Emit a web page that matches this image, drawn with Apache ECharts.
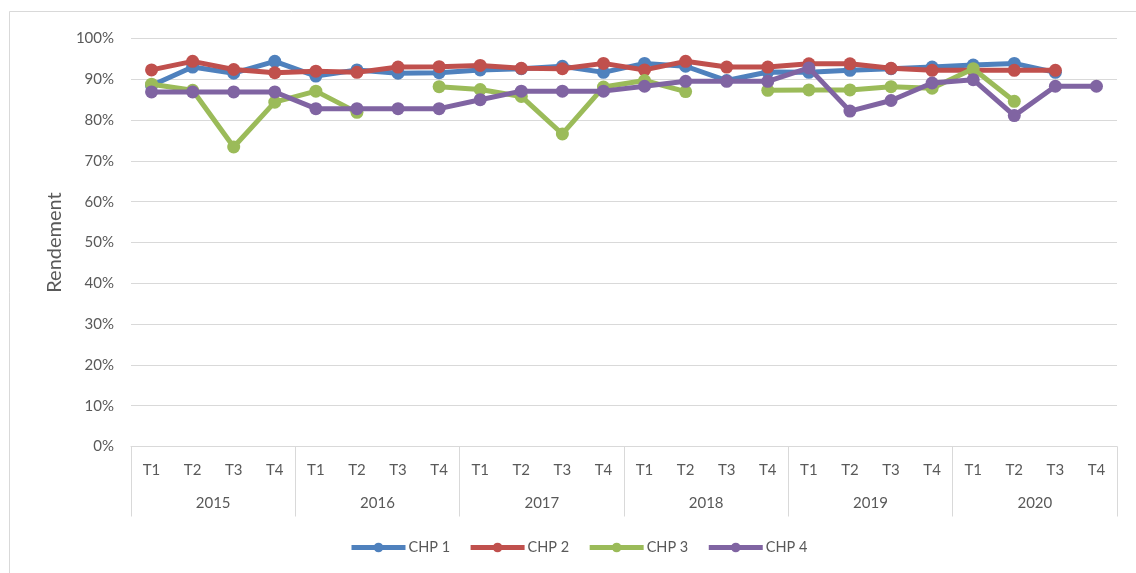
<!DOCTYPE html>
<html>
<head>
<meta charset="utf-8">
<script src="https://cdn.jsdelivr.net/npm/echarts@6/dist/echarts.min.js"></script>
<style>
  html, body { margin: 0; padding: 0; background: #fff; }
  #chart { width: 1136px; height: 573px; }
</style>
</head>
<body>
<div id="chart"></div>
<script>
// Quarterly efficiency (rendement) of four CHP units, 2015-2020
const years = ['2015', '2016', '2017', '2018', '2019', '2020'];
const quarters = ['T1', 'T2', 'T3', 'T4'];
const yTicks = [0, 10, 20, 30, 40, 50, 60, 70, 80, 90, 100];

const chp1 = [88.5, 93.0, 91.5, 94.4, 90.8, 92.3, 91.5, 91.6,
              92.3, 92.6, 93.2, 91.7, 93.9, 93.2, 89.7, 91.8,
              91.7, 92.2, 92.6, 93.0, 93.5, 93.9, 91.7, null];
const chp2 = [92.3, 94.4, 92.4, 91.6, 92.0, 91.7, 93.0, 93.1,
              93.4, 92.7, 92.6, 93.9, 92.3, 94.4, 93.0, 93.0,
              93.8, 93.8, 92.7, 92.2, 92.2, 92.2, 92.2, null];
const chp3 = [88.8, 87.3, 73.4, 84.4, 87.1, 81.9, null, 88.2,
              87.5, 85.8, 76.6, 88.1, 89.7, 87.0, null, 87.3,
              87.4, 87.4, 88.2, 87.8, 92.6, 84.6, null, null];
const chp4 = [86.9, 86.9, 86.9, 86.9, 82.8, 82.8, 82.8, 82.8,
              85.0, 87.1, 87.1, 87.1, 88.3, 89.5, 89.5, 89.5,
              92.8, 82.2, 84.8, 89.1, 89.9, 81.1, 88.3, 88.3];

const seriesNames = ['CHP 1', 'CHP 2', 'CHP 3', 'CHP 4'];
const seriesData = [chp1, chp2, chp3, chp4];
const colors = ['#4F81BD', '#C0504D', '#9BBB59', '#8064A2'];

const quarterCats = [];
years.forEach(y => quarters.forEach(q => quarterCats.push(q)));

const FONT = 'Lato, "Open Sans", sans-serif';
const TXT = '#595959';

const chart = echarts.init(document.getElementById('chart'));
chart.setOption({
  animation: false,
  backgroundColor: '#fff',
  color: colors,
  graphic: [{
    type: 'rect',
    shape: { x: 9.5, y: 11.5, width: 1140, height: 600 },
    style: { fill: 'none', stroke: '#d9d9d9', lineWidth: 1 },
    silent: true
  }],
  grid: { left: 131, right: 19, top: 38.5, bottom: 126.5 },
  legend: {
    top: 535,
    left: 344,
    itemWidth: 54,
    itemHeight: 12,
    itemGap: 18,
    lineStyle: { width: 5 },
    textStyle: { color: TXT, fontSize: 14.5, fontFamily: FONT, padding: [0, 0, 0, -2] },
    data: seriesNames
  },
  xAxis: [{
    type: 'category',
    data: quarterCats,
    boundaryGap: true,
    axisLine: { show: true, lineStyle: { color: '#d9d9d9', width: 1 } },
    axisTick: { show: false },
    axisLabel: { color: TXT, fontSize: 15, fontFamily: FONT, margin: 16.5, interval: 0 }
  }, {
    type: 'category',
    data: years,
    position: 'bottom',
    boundaryGap: true,
    axisLine: { show: false },
    axisTick: { show: true, length: 70, lineStyle: { color: '#d9d9d9', width: 1 } },
    axisLabel: { color: TXT, fontSize: 15, fontFamily: FONT, margin: 49.5, interval: 0 }
  }],
  yAxis: {
    type: 'value',
    min: yTicks[0],
    max: yTicks[yTicks.length - 1],
    interval: yTicks[1] - yTicks[0],
    name: 'Rendement',
    nameLocation: 'middle',
    nameGap: 66,
    nameTextStyle: { color: TXT, fontSize: 20, fontFamily: FONT },
    axisLine: { show: false },
    axisTick: { show: false },
    axisLabel: { color: TXT, fontSize: 15, fontFamily: FONT, margin: 17, formatter: '{value}%' },
    splitLine: { lineStyle: { color: '#d9d9d9', width: 1 } }
  },
  series: seriesNames.map((name, i) => ({
    name: name,
    type: 'line',
    xAxisIndex: 0,
    data: seriesData[i],
    connectNulls: false,
    symbol: 'circle',
    symbolSize: 13,
    showAllSymbol: true,
    lineStyle: { width: 5, color: colors[i] },
    itemStyle: { color: colors[i] },
    z: 2 + i
  }))
});
</script>
</body>
</html>
